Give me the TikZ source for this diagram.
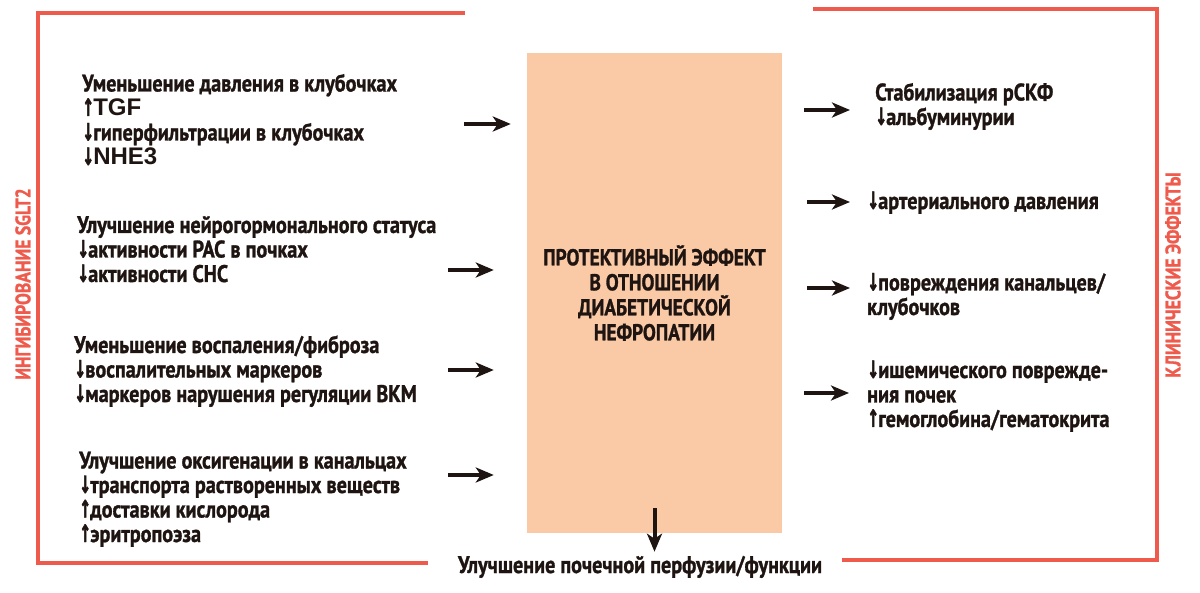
\documentclass[tikz,border=0pt]{standalone}
\usepackage{fontspec}
\setmainfont{PT Sans}[FakeStretch=0.84, BoldFeatures={FakeBold=1.2}]
\newfontfamily\arrfont{DejaVu Sans}[FakeStretch=0.6, BoldFeatures={FakeBold=1.5}]
\newfontfamily\latfont{Liberation Sans}
\usepackage{tikz}
\usetikzlibrary{positioning, arrows.meta}
\definecolor{frameRed}{HTML}{EE5A4C}
\definecolor{corePeach}{HTML}{FAC9A5}
\definecolor{inkDark}{HTML}{1E1411}
\newcommand{\arrUp}{{\arrfont\char"2191}\kern-1pt}
\newcommand{\arrDn}{{\arrfont\char"2193}\kern-1pt}
\tikzset{
  mech/.style = {anchor=base west, align=left, inner sep=0pt, text=inkDark,
                 font=\bfseries\fontsize{24}{24.5}\selectfont},
  core/.style = {fill=corePeach, minimum width=255pt, minimum height=480pt, inner sep=0pt,
                 align=center, text=inkDark, font=\bfseries\fontsize{23}{25}\selectfont},
  side/.style = {rotate=90, text=frameRed, inner sep=0pt,
                 font=\bfseries\fontsize{21}{21}\selectfont},
  rim/.style  = {draw=frameRed, line width=4pt},
  fl/.style   = {-{Stealth[length=18pt, width=15pt, inset=5pt]}, draw=inkDark, line width=4pt}
}

\begin{document}
\begin{tikzpicture}[x=1pt, y=-1pt]
  \useasboundingbox (0,0) rectangle (1200,593);

  % --- red frames and their side titles
  \draw[rim] (465,13) -- (38,13) -- (38,563) -- (428,563);
  \draw[rim] (813,9) -- (1157,9) -- (1157,560) -- (842,560);
  \node[side] (sglt) at (23,284) {ИНГИБИРОВАНИЕ SGLT2};
  \node[side] (clin) at (1173,275) {КЛИНИЧЕСКИЕ ЭФФЕКТЫ};

  % --- central box
  \node[core] (core) at (654.5,293) {ПРОТЕКТИВНЫЙ ЭФФЕКТ\\ В ОТНОШЕНИИ\\ ДИАБЕТИЧЕСКОЙ\\ НЕФРОПАТИИ};
  \node[mech, anchor=base] (perf) at (640,573) {Улучшение почечной перфузии/функции};

  % --- mechanisms (left), placed by the baseline of their last line
  \node[mech] (glom) at (82,165) {Уменьшение давления в клубочках\\ \arrUp{\latfont TGF}\\
        \arrDn гиперфильтрации в клубочках\\ \arrDn{\latfont NHE3}};
  \node[mech] (neuro) at (77,282) {Улучшение нейрогормонального статуса\\
        \arrDn активности РАС в почках\\ \arrDn активности СНС};
  \node[mech] (infl) at (74,402) {Уменьшение воспаления/фиброза\\
        \arrDn воспалительных маркеров\\ \arrDn маркеров нарушения регуляции ВКМ};
  \node[mech] (oxy) at (79,542) {Улучшение оксигенации в канальцах\\
        \arrDn транспорта растворенных веществ\\ \arrUp доставки кислорода\\ \arrUp эритропоэза};

  % --- clinical effects (right)
  \node[mech] (gfr) at (875,125) {Стабилизация рСКФ\\ \arrDn альбуминурии};
  \node[mech] (bp) at (867,209) {\arrDn артериального давления};
  \node[mech] (tub) at (867,315) {\arrDn повреждения канальцев/\\ клубочков};
  \node[mech] (isch) at (867,427) {\arrDn ишемического поврежде-\\ ния почек\\
        \arrUp гемоглобина/гематокрита};

  % --- arrows in
  \coordinate (in1) at (464,124);
  \coordinate (in2) at (448,270);
  \coordinate (in3) at (448,370);
  \coordinate (in4) at (448,475);
  \draw[fl, shorten >=16pt] (in1) -- (in1 -| core.west);
  \draw[fl, shorten >=33pt] (in2) -- (in2 -| core.west);
  \draw[fl, shorten >=33pt] (in3) -- (in3 -| core.west);
  \draw[fl, shorten >=33pt] (in4) -- (in4 -| core.west);

  % --- arrows out
  \coordinate (out1) at (850,110);
  \coordinate (out2) at (850,202);
  \coordinate (out3) at (850,288);
  \coordinate (out4) at (849,393);
  \draw[fl, shorten <=22pt] (core.east |- out1) -- (out1);
  \draw[fl, shorten <=25pt] (core.east |- out2) -- (out2);
  \draw[fl, shorten <=25pt] (core.east |- out3) -- (out3);
  \draw[fl, shorten <=22pt] (core.east |- out4) -- (out4);
  \draw[fl, shorten >=4pt] ([yshift=25pt]core.south) -- (core.south |- perf.north);
\end{tikzpicture}
\end{document}
